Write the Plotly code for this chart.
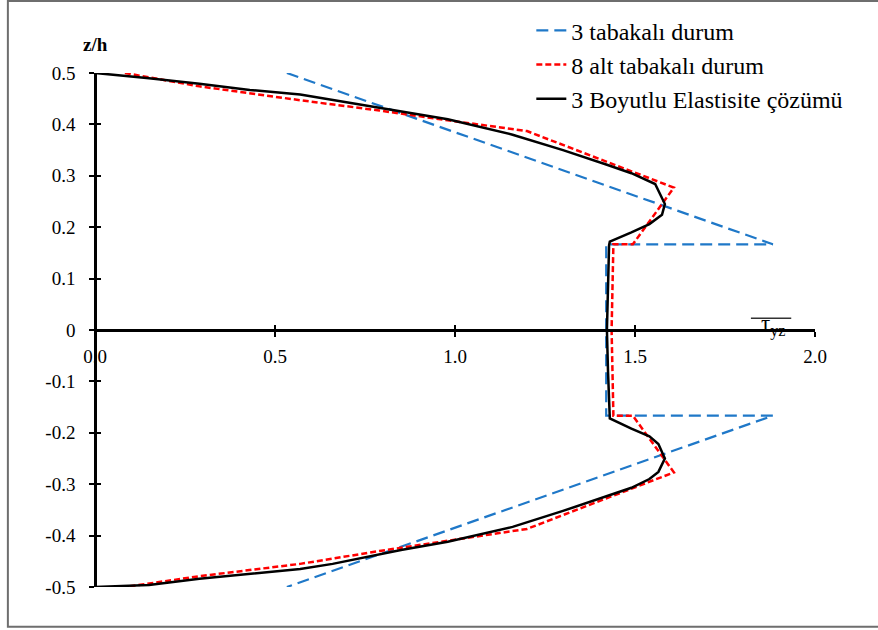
import plotly.graph_objects as go

# Through-thickness distribution of the normalised transverse shear stress
# tau_yz (horizontal) against z/h (vertical).

# 3-layer model
tau_3layer = [0.533, 1.883, 1.42, 1.42, 1.883, 0.533]
z_3layer = [0.5, 0.1667, 0.1667, -0.1667, -0.1667, -0.5]

# 8-sublayer model
tau_8sub = [0.083, 0.29, 0.57, 0.79, 0.98, 1.2, 1.608, 1.494, 1.44, 1.435,
            1.44, 1.494, 1.608, 1.2, 0.98, 0.79, 0.57, 0.29, 0.083]
z_8sub = [0.5, 0.474, 0.447, 0.427, 0.408, 0.387, 0.277, 0.1667, 0.1667, 0.0,
          -0.1667, -0.1667, -0.277, -0.387, -0.41, -0.43, -0.455, -0.479, -0.5]

# 3D elasticity solution
tau_3d = [0.0, 0.15, 0.29, 0.43, 0.57, 0.79, 0.98, 1.16, 1.30, 1.42, 1.49,
          1.556, 1.568, 1.583, 1.575, 1.54, 1.49, 1.43, 1.428, 1.425, 1.422,
          1.425, 1.428, 1.43, 1.49, 1.54, 1.565, 1.583, 1.565, 1.54, 1.49,
          1.42, 1.30, 1.16, 0.98, 0.85, 0.66, 0.57, 0.43, 0.29, 0.15, 0.0]
z_3d = [0.5, 0.490, 0.479, 0.467, 0.458, 0.432, 0.410, 0.380, 0.350, 0.322,
        0.305, 0.284, 0.268, 0.245, 0.224, 0.206, 0.190, 0.172, 0.165, 0.08,
        0.0, -0.08, -0.167, -0.172, -0.192, -0.207, -0.222, -0.250, -0.276,
        -0.290, -0.307, -0.324, -0.352, -0.383, -0.412, -0.428, -0.455,
        -0.465, -0.474, -0.484, -0.496, -0.5]

series_names = ["3 tabakalı durum", "8 alt tabakalı durum",
                "3 Boyutlu Elastisite çözümü"]

x_tickvals = [0.0, 0.5, 1.0, 1.5, 2.0]
x_ticktext = ["0.0", "0.5", "1.0", "1.5", "2.0"]
y_tickvals = [0.5, 0.4, 0.3, 0.2, 0.1, 0.0, -0.1, -0.2, -0.3, -0.4, -0.5]
y_ticktext = ["0.5", "0.4", "0.3", "0.2", "0.1", "0", "-0.1", "-0.2",
              "-0.3", "-0.4", "-0.5"]

SERIF = "Liberation Serif, Times New Roman, serif"

fig = go.Figure()
fig.add_trace(go.Scatter(x=tau_3layer, y=z_3layer, mode="lines",
                         name=series_names[0], legendgroup="a",
                         line=dict(color="#1f78c8", width=2.2, dash="12px,6px")))
fig.add_trace(go.Scatter(x=tau_8sub, y=z_8sub, mode="lines",
                         name=series_names[1], legendgroup="b",
                         line=dict(color="#ff0000", width=2.5, dash="6px,3px")))
# the elasticity curve sits on the overlay axes (same ranges), drawn on top
fig.add_trace(go.Scatter(x=tau_3d, y=z_3d, mode="lines",
                         name=series_names[2], legendgroup="c",
                         xaxis="x2", yaxis="y2",
                         line=dict(color="#000000", width=2.5)))

axis_font = dict(family=SERIF, size=19, color="#000000")

fig.update_layout(
    width=878, height=630,
    margin=dict(l=95, r=63, t=73, b=43, autoexpand=False),
    paper_bgcolor="white", plot_bgcolor="white",
    font=dict(family=SERIF, color="#000000"),
    showlegend=True,
    legend=dict(x=0.606, y=1.126, xanchor="left", yanchor="top",
                font=dict(family=SERIF, size=24, color="#000000"),
                bgcolor="rgba(0,0,0,0)", tracegroupgap=0),
    xaxis=dict(range=[0, 2.0], anchor="free", position=0.5,
               showgrid=False, zeroline=False,
               showline=True, linecolor="#000000", linewidth=2.5,
               ticks="outside", ticklen=5, tickwidth=2, tickcolor="#000000",
               tickvals=x_tickvals, ticktext=x_ticktext,
               tickfont=axis_font, ticklabelstandoff=3),
    yaxis=dict(range=[-0.5, 0.5], anchor="free", position=0,
               showgrid=False, zeroline=False,
               showline=True, linecolor="#000000", linewidth=2.5,
               ticks="outside", ticklen=5, tickwidth=2, tickcolor="#000000",
               tickvals=y_tickvals, ticktext=y_ticktext,
               tickfont=axis_font, ticklabelstandoff=10),
    # overlay axes carrying the inner half of the crossing tick marks
    xaxis2=dict(range=[0, 2.0], overlaying="x", anchor="free", position=0.5,
                showgrid=False, zeroline=False, showline=False,
                ticks="inside", ticklen=5, tickwidth=2, tickcolor="#000000",
                tickvals=x_tickvals, showticklabels=False),
    yaxis2=dict(range=[-0.5, 0.5], overlaying="y", anchor="free", position=0,
                showgrid=False, zeroline=False, showline=False,
                ticks="inside", ticklen=5, tickwidth=2, tickcolor="#000000",
                tickvals=y_tickvals, showticklabels=False),
    annotations=[
        dict(text="<b>z/h</b>", xref="paper", yref="paper", x=0.0, y=1.056,
             xanchor="center", yanchor="middle", showarrow=False,
             font=dict(family=SERIF, size=19, color="#000000")),
        dict(text="τ<sub>yz</sub>", xref="paper", yref="paper", x=0.941,
             y=0.508, xanchor="center", yanchor="middle", showarrow=False,
             font=dict(family=SERIF, size=23, color="#000000")),
    ],
    shapes=[
        # overline above the stress symbol
        dict(type="line", xref="paper", yref="paper", x0=0.911, x1=0.967,
             y0=0.523, y1=0.523, line=dict(color="#333333", width=1.5)),
        # figure frame
        dict(type="rect", xref="paper", yref="paper", x0=-0.121, x1=1.2,
             y0=-0.0775, y1=1.14, line=dict(color="#6e6e6e", width=2),
             layer="below"),
    ],
)

fig.write_html("out.html")
